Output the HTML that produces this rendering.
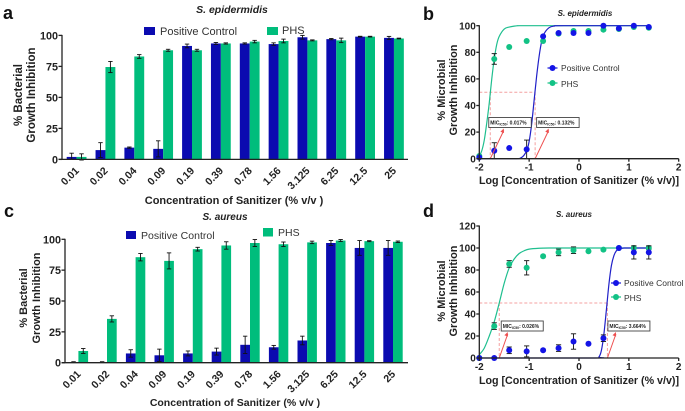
<!DOCTYPE html>
<html>
<head>
<meta charset="utf-8">
<title>Bacterial growth inhibition charts</title>
<style>
html,body{margin:0;padding:0;background:#fff;width:685px;height:411px;overflow:hidden}
svg{display:block;filter:blur(0.35px);font-family:"Liberation Sans",sans-serif}
text{fill:#222}
.letter{font-size:18px;font-weight:bold;fill:#111}
.ttl{font-weight:bold;font-style:italic;text-anchor:middle}
.lab{font-weight:bold;text-anchor:middle;font-size:11px}
.leg{fill:#333}
.mic{font-size:5px;font-weight:bold;fill:#222}
</style>
</head>
<body>
<svg id="fig" xmlns="http://www.w3.org/2000/svg" width="685" height="411" viewBox="0 0 685 411">
<text class="letter" x="3" y="19">a</text>
<text class="letter" x="423" y="20">b</text>
<text class="letter" x="4" y="217">c</text>
<text class="letter" x="423" y="217">d</text>

<text class="ttl" x="232" y="13" font-size="10.5">S. epidermidis</text>
<text class="ttl" x="225" y="220" font-size="10">S. aureus</text>
<text class="ttl" x="585" y="16" font-size="8">S. epidermidis</text>
<text class="ttl" x="574" y="217" font-size="8">S. aureus</text>

<text class="lab" transform="translate(22,95) rotate(-90)" style="font-size:11.5px">% Bacterial</text>
<text class="lab" transform="translate(35,95) rotate(-90)" style="font-size:11.5px">Growth Inhibition</text>
<text class="lab" transform="translate(27,298) rotate(-90)">% Bacterial</text>
<text class="lab" transform="translate(40,298) rotate(-90)">Growth Inhibition</text>
<text class="lab" transform="translate(445,90) rotate(-90)">% Microbial</text>
<text class="lab" transform="translate(457,90) rotate(-90)">Growth Inhibition</text>
<text class="lab" transform="translate(445,291) rotate(-90)">% Microbial</text>
<text class="lab" transform="translate(457,291) rotate(-90)">Growth Inhibition</text>

<text class="lab" x="234" y="204">Concentration of Sanitizer (% v/v )</text>
<text class="lab" x="235" y="406" style="font-size:10.5px">Concentration of Sanitizer (% v/v )</text>
<text class="lab" x="579" y="184" style="font-size:10.7px">Log [Concentration of Sanitizer (% v/v)]</text>
<text class="lab" x="579" y="384" style="font-size:10.7px">Log [Concentration of Sanitizer (% v/v)]</text>

<rect x="144" y="27" width="11" height="8" fill="#0b0bb0"/>
<text class="leg" x="160" y="35" font-size="11">Positive Control</text>
<rect x="267" y="27" width="11" height="8" fill="#00bd7c"/>
<text class="leg" x="282" y="34" font-size="11">PHS</text>
<rect x="126" y="231" width="10" height="8" fill="#0b0bb0"/>
<text class="leg" x="141" y="239" font-size="10.5">Positive Control</text>
<rect x="263" y="228" width="10" height="8.5" fill="#00bd7c"/>
<text class="leg" x="278" y="236" font-size="10.5">PHS</text>
<g id="g-legends">
<line x1="547.5" x2="557.5" y1="68" y2="68" stroke="#1414d8" stroke-width="1.2"/>
<circle cx="552.5" cy="68" r="3" fill="#1414e6"/>
<text class="leg" x="561" y="71" font-size="8.4">Positive Control</text>
<line x1="547.5" x2="557.5" y1="83" y2="83" stroke="#12c285" stroke-width="1.2"/>
<circle cx="552.5" cy="83" r="3" fill="#12c285"/>
<text class="leg" x="561" y="87" font-size="8.4">PHS</text>
<line x1="611" x2="621" y1="283" y2="283" stroke="#1414d8" stroke-width="1.2"/>
<circle cx="616" cy="283" r="3" fill="#1414e6"/>
<text class="leg" x="624" y="286" font-size="8.5">Positive Control</text>
<line x1="611" x2="621" y1="297" y2="297" stroke="#12c285" stroke-width="1.2"/>
<circle cx="616" cy="297" r="3" fill="#12c285"/>
<text class="leg" x="624" y="301" font-size="8.5">PHS</text>
</g>
</svg>
<script>
var concentrationLabels = ["0.01","0.02","0.04","0.09","0.19","0.39","0.78","1.56","3.125","6.25","12.5","25"];
var barTicks = [0,25,50,75,100];

var aControl = [2,7.5,9.5,8.5,91.5,93.5,93.5,93,98.5,97,99,98];
var aControlErr = [3,6,0.5,6.5,1.5,0.8,0.5,1,1.5,0.5,0.3,1.2];
var aPhs = [2,74.5,83,88,88,93.5,95,95.5,96,96,99,97.5];
var aPhsErr = [2.5,4.5,1.5,0.8,0.8,0.5,1,1.5,0.4,1.8,0.3,0.3];

var cControl = [0.5,0.5,7.5,6,7.5,9,14.5,12.5,18,97,93,93];
var cControlErr = [0.3,0.3,3,5,2,2.8,7,1.5,3.5,2,6,6];
var cPhs = [9.5,35.5,85.5,82.5,92,95,97,96,97.5,99,98.5,98];
var cPhsErr = [2,2.5,3,6.5,1.5,3,2.8,1.8,1,0.8,0.4,0.6];

var logDose = [-2,-1.7,-1.4,-1.05,-0.72,-0.41,-0.11,0.19,0.49,0.8,1.1,1.4];
var logTicks = [-2,-1,0,1,2];
var bYTicks = [0,20,40,60,80,100];
var dYTicks = [0,20,40,60,80,100,120];

var bControl = [1,6,8,7,92,94.5,94.5,94.5,100,98,100,99];
var bControlErr = [0,6,0,7,0,0,0,0,0,0,0,0];
var bPhs = [2,75,84,88.5,88.5,94,96,96,97,97.5,99,98.5];
var bPhsErr = [0,4,0,0,0,0,0,0,0,0,0,0];

var dControl = [0,0,7,6,7,9,15,13,18,100,96,96];
var dControlErr = [0,0,3,5,0,3,7,0,3,0,6,6];
var dPhs = [0,29,85.5,82,92.5,96,98,97,98.5,100,100,100];
var dPhsErr = [0,3,3,6.5,0,3,3,0,0,0,1,1.5];

var bControlCurveX = [-2,-1.3,-1.15,-1.05,-1,-0.95,-0.9,-0.85,-0.8,-0.75,-0.7,-0.6,-0.5,-0.3,1.4];
var bControlCurveY = [0,0,1,6,13,26,44,62,77,88,94,98.5,99.7,100,100];
var bPhsCurveX = [-2,-1.95,-1.9,-1.85,-1.8,-1.75,-1.7,-1.65,-1.6,-1.5,-1.4,-1.3,-1.2,-1,1.4];
var bPhsCurveY = [2,6,14,27,42,60,75,86,92,97.5,99,99.7,100,100,100];
var dControlCurveX = [-2,0.3,0.4,0.45,0.5,0.55,0.6,0.65,0.7,0.75,0.8,0.9,1,1.4];
var dControlCurveY = [0,0,1,7,22,44,67,84,93,97.5,99,100,100,100];
var dPhsCurveX = [-2,-1.9,-1.8,-1.7,-1.6,-1.5,-1.4,-1.3,-1.2,-1.1,-1,-0.8,-0.6,0,1.4];
var dPhsCurveY = [3,9,20,33,50,68,82,90,95,97.5,99,99.8,100,100,100];

var bMicLabels = ["0.017%","0.132%"];
var bMicLog = [-1.78,-0.88];
var dMicLabels = ["0.026%","3.664%"];
var dMicLog = [-1.6,0.57];

var NS = "http://www.w3.org/2000/svg";
var svg = document.getElementById("fig");
var BLUE = "#0b0bb0", GREEN = "#00bd7c", DOT_BLUE = "#1414e6", DOT_GREEN = "#12c285";

function mk(tag, parent, attrs) {
  var el = document.createElementNS(NS, tag);
  for (var k in attrs) el.setAttribute(k, attrs[k]);
  parent.appendChild(el);
  return el;
}

function axisLine(parent, x1, y1, x2, y2) {
  var el = mk("line", parent, {x1:x1, y1:y1, x2:x2, y2:y2, stroke:"#222", "stroke-width":1.3});
  return el;
}

function errorBar(parent, x, yTop, yBottom, cap) {
  var g = mk("g", parent, {stroke:"#111", "stroke-width":0.9, fill:"none"});
  
  
  mk("line", g, {x1:x, x2:x, y1:yTop, y2:yBottom});
  mk("line", g, {x1:x-cap, x2:x+cap, y1:yTop, y2:yTop});
  mk("line", g, {x1:x-cap, x2:x+cap, y1:yBottom, y2:yBottom});
}

function drawBars(name, frame, control, controlErr, phs, phsErr) {
  var g = mk("g", svg, {});
  
  
  var yScale = function (v) { return frame.y0 - v * (frame.y0 - frame.y100) / 100; };
  var xScale = function (i) { return frame.first + i * frame.step; };

  concentrationLabels.forEach(function (label, i) {
    var x = xScale(i);
    var blue = mk("rect", g, {x:x, y:yScale(control[i]), width:frame.bar, height:frame.y0 - yScale(control[i]), fill:BLUE});
    
    
    var green = mk("rect", g, {x:x + frame.bar, y:yScale(phs[i]), width:frame.bar, height:frame.y0 - yScale(phs[i]), fill:GREEN});
    
    
    errorBar(g, x + frame.bar / 2, yScale(control[i] + controlErr[i]), yScale(Math.max(control[i] - controlErr[i], 0)), 2.2);
    errorBar(g, x + frame.bar * 1.5, yScale(phs[i] + phsErr[i]), yScale(phs[i] - phsErr[i]), 2.2);

    var cx = x + frame.bar;
    var tx = cx + 3, ty = frame.y0 + 12;
    var tick = mk("text", g, {x:tx, y:ty, "text-anchor":"end", "font-size":10.5, "font-weight":"bold", transform:"rotate(-45 " + tx + " " + ty + ")"});
    tick.textContent = label;
    
    
  });

  barTicks.forEach(function (t) {
    var y = yScale(t);
    var mark = axisLine(g, frame.x0 - 3.5, y, frame.x0, y);
    
    
    var lab = mk("text", g, {x:frame.x0 - 4, y:y + 4, "text-anchor":"end", "font-size":10.8, "font-weight":"bold"});
    lab.textContent = t;
    
    
  });
  var ya = axisLine(g, frame.x0, frame.y100 - 0.5, frame.x0, frame.y0);
  
  
  var xa = axisLine(g, frame.x0 - 3.5, frame.y0, frame.x1, frame.y0);
  
  
}

function smoothPath(pts) {
  var d = "M" + pts[0][0] + " " + pts[0][1];
  for (var i = 0; i < pts.length - 1; i++) {
    var p0 = pts[Math.max(i - 1, 0)], p1 = pts[i], p2 = pts[i + 1], p3 = pts[Math.min(i + 2, pts.length - 1)];
    var c1x = p1[0] + (p2[0] - p0[0]) / 6, c1y = p1[1] + (p2[1] - p0[1]) / 6;
    var c2x = p2[0] - (p3[0] - p1[0]) / 6, c2y = p2[1] - (p3[1] - p1[1]) / 6;
    if (p1[1] === p2[1]) { c1y = p1[1]; c2y = p2[1]; }
    d += "C" + c1x + " " + c1y + " " + c2x + " " + c2y + " " + p2[0] + " " + p2[1];
  }
  return d;
}

function drawDose(name, frame, yTicks, control, controlErr, phs, phsErr, cCurveX, cCurveY, pCurveX, pCurveY, micLog, micLabels) {
  var g = mk("g", svg, {});
  
  
  var xScale = function (v) { return frame.x0 + (v + 2) * (frame.x1 - frame.x0) / 4; };
  var yScale = function (v) { return frame.y0 - v * (frame.y0 - frame.yTop) / frame.yMax; };

  var hY = yScale(50);
  var hLine = mk("line", g, {x1:frame.x0, x2:xScale(micLog[1]), y1:hY, y2:hY, stroke:"#f4a0a0", "stroke-width":1, "stroke-dasharray":"3 2"});
  
  

  micLog.forEach(function (m, i) {
    var mx = xScale(m);
    var vLine = mk("line", g, {x1:mx, x2:mx, y1:hY, y2:frame.y0, stroke:"#f4a0a0", "stroke-width":1, "stroke-dasharray":"3 2"});
    
    
  });

  var pCurve = mk("path", g, {d:smoothPath(pCurveX.map(function (x, i) { return [xScale(x), yScale(pCurveY[i])]; })), fill:"none", stroke:"#1fbf8f", "stroke-width":1.2});
  
  
  var cCurve = mk("path", g, {d:smoothPath(cCurveX.map(function (x, i) { return [xScale(x), yScale(cCurveY[i])]; })), fill:"none", stroke:"#2020c8", "stroke-width":1.2});
  
  

  logDose.forEach(function (d, i) {
    if (phsErr[i] > 0) errorBar(g, xScale(d), yScale(phs[i] + phsErr[i]), yScale(phs[i] - phsErr[i]), 2.6);
    var pt = mk("circle", g, {cx:xScale(d), cy:yScale(phs[i]), r:3, fill:DOT_GREEN});
    
    
  });
  logDose.forEach(function (d, i) {
    if (controlErr[i] > 0) errorBar(g, xScale(d), yScale(control[i] + controlErr[i]), yScale(Math.max(control[i] - controlErr[i], 0)), 2.6);
    var pt = mk("circle", g, {cx:xScale(d), cy:yScale(control[i]), r:3, fill:DOT_BLUE});
    
    
  });

  micLog.forEach(function (m, i) {
    var mx = xScale(m);
    var tipX = mx + frame.arrowDx, tipY = frame.boxY + 11;
    var arrow = mk("line", g, {x1:mx, y1:frame.y0, x2:tipX, y2:tipY + 2, stroke:"#ee5050", "stroke-width":1});
    
    
    var head = mk("path", g, {d:"M" + tipX + " " + tipY + "l-3.4 3.2l3.6 1.4z", fill:"#ee5050"});
    
    
    var boxX = mx + frame.boxDx[i];
    var box = mk("rect", g, {x:boxX, y:frame.boxY, width:frame.boxW, height:10, fill:"#fff", stroke:"#444", "stroke-width":0.9});
    
    
    var txt = mk("text", g, {x:boxX + 1.5, y:frame.boxY + 6.8, "class":"mic"});
    
    
    var s1 = mk("tspan", txt, {});
    s1.textContent = "MIC";
    var s2 = mk("tspan", txt, {dy:1.3, "font-size":3.4});
    s2.textContent = "IC50";
    var s3 = mk("tspan", txt, {dy:-1.3});
    s3.textContent = ": " + micLabels[i];
  });

  yTicks.forEach(function (t) {
    var y = yScale(t);
    var mark = axisLine(g, frame.x0 - 3, y, frame.x0, y);
    
    
    var lab = mk("text", g, {x:frame.x0 - 3.5, y:y + 3.6, "text-anchor":"end", "font-size":10, "font-weight":"bold"});
    lab.textContent = t;
    
    
  });
  logTicks.forEach(function (t) {
    var x = xScale(t);
    var mark = axisLine(g, x, frame.y0, x, frame.y0 + 3);
    
    
    var lab = mk("text", g, {x:x, y:frame.y0 + 12, "text-anchor":"middle", "font-size":10, "font-weight":"bold"});
    lab.textContent = t;
    
    
  });
  var ya = axisLine(g, frame.x0, frame.yTop - 0.5, frame.x0, frame.y0);
  
  
  var xa = axisLine(g, frame.x0, frame.y0, frame.x1, frame.y0);
  
  
}

drawBars("bar-chart-epidermidis", {x0:62, x1:408, y0:159.4, y100:35.4, first:66.7, step:28.85, bar:9.9}, aControl, aControlErr, aPhs, aPhsErr);
drawBars("bar-chart-aureus", {x0:65, x1:408, y0:362.7, y100:239.3, first:68.7, step:28.6, bar:9.7}, cControl, cControlErr, cPhs, cPhsErr);
drawDose("dose-response-epidermidis", {x0:479.3, x1:678.7, y0:158.7, yTop:25.7, yMax:100, boxY:117.5, boxW:42.5, boxDx:[-1.5,1.5], arrowDx:13.5}, bYTicks, bControl, bControlErr, bPhs, bPhsErr, bControlCurveX, bControlCurveY, bPhsCurveX, bPhsCurveY, bMicLog, bMicLabels);
drawDose("dose-response-aureus", {x0:479.3, x1:678.7, y0:358, yTop:226, yMax:120, boxY:321, boxW:42, boxDx:[2,0.5], arrowDx:8.5}, dYTicks, dControl, dControlErr, dPhs, dPhsErr, dControlCurveX, dControlCurveY, dPhsCurveX, dPhsCurveY, dMicLog, dMicLabels);
svg.appendChild(document.getElementById("g-legends"));
</script>
</body>
</html>
